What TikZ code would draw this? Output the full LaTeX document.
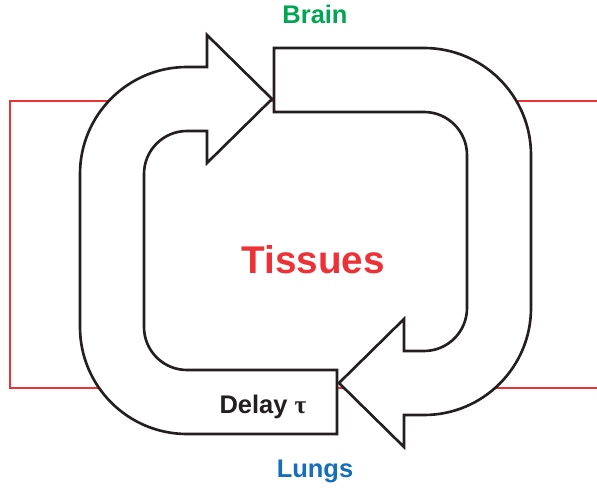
\documentclass[tikz,border=0pt]{standalone}
\usepackage{fontspec}
\setsansfont{Liberation Sans}
\newfontfamily\greekfont{Liberation Serif}
\usepackage{xcolor}
\usepackage{tikz}
\usetikzlibrary{positioning, arrows.meta}
\definecolor{BrainGreen}{RGB}{0,166,81}
\definecolor{LungBlue}{RGB}{20,110,185}
\definecolor{TissueRed}{RGB}{237,50,55}
\definecolor{InkBlack}{RGB}{35,31,32}
\tikzset{
  band/.style={draw=InkBlack, line width=1.5pt, fill=white, line join=miter},
  loopline/.style={draw=TissueRed, line width=1.1pt},
  organlbl/.style={font=\sffamily\bfseries\fontsize{14.5}{16}\selectfont, inner sep=0pt, anchor=base},
  tissuelbl/.style={font=\sffamily\bfseries\fontsize{22}{24}\selectfont, text=TissueRed, inner sep=0pt, anchor=base},
}
% one bent arrow of the loop, in pixel units
\def\bentarrow{(337,53) -- (187,53) arc[start angle=-90, end angle=-180, radius=107]
  -- (80,313) arc[start angle=180, end angle=90, radius=107]
  -- (207,420) -- (207,452) -- (272,388) -- (207,324) -- (207,356)
  -- (187,356) arc[start angle=90, end angle=180, radius=43]
  -- (144,160) arc[start angle=180, end angle=270, radius=43]
  -- (337,117) -- cycle}

\begin{document}
\begin{tikzpicture}[x=0.02cm, y=0.02cm]
  \useasboundingbox (0,0) rectangle (597,487);
  % red circuit behind the arrows
  \draw[loopline] (597,386) -- (10,386) -- (10,99) -- (597,99);
  \path[band] \bentarrow;
  \path[band, rotate around={180:(305.5,246)}] \bentarrow;
  \node[tissuelbl] (tissues) at (313,214) {Tissues};
  \node[organlbl, text=BrainGreen] (brain) at (315,463) {Brain};
  \node[organlbl, text=LungBlue] (lungs) at (315,10) {Lungs};
  \node[organlbl, text=InkBlack] (delay) at (263,74) {Delay {\greekfont τ}};
\end{tikzpicture}
\end{document}
